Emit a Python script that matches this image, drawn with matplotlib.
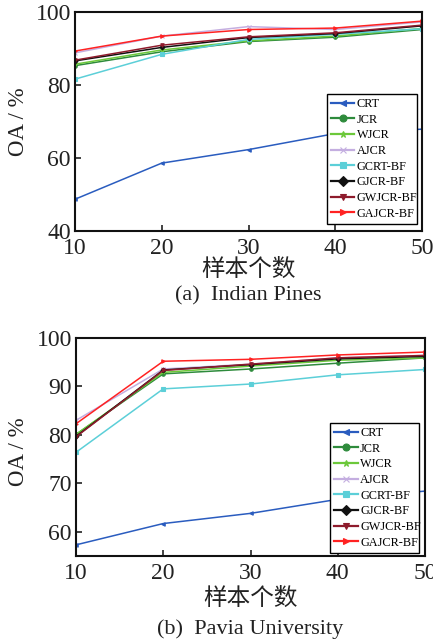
import matplotlib
matplotlib.use('Agg')
import matplotlib.pyplot as plt

plt.rcParams['font.family'] = ['Liberation Serif', 'Noto Sans CJK SC']
plt.rcParams['mathtext.fontset'] = 'stix'

# sample counts (x axis)
samples = [10, 20, 30, 40, 50]

methods = ['CRT', 'JCR', 'WJCR', 'AJCR', 'GCRT-BF', 'GJCR-BF', 'GWJCR-BF', 'GAJCR-BF']

# (a) Indian Pines, OA %
ip_crt = [48.7, 58.6, 62.3, 66.7, 67.9]
ip_jcr = [85.3, 89.1, 91.9, 93.1, 95.2]
ip_wjcr = [85.7, 89.6, 92.1, 93.4, 95.5]
ip_ajcr = [88.8, 93.4, 96.0, 95.2, 97.3]
ip_gcrt = [81.6, 88.4, 92.5, 93.9, 95.4]
ip_gjcr = [86.6, 90.3, 93.0, 94.1, 96.2]
ip_gwjcr = [86.8, 90.9, 93.2, 94.3, 96.4]
ip_gajcr = [89.3, 93.4, 95.2, 95.6, 97.5]

# (b) Pavia University, OA %
pu_crt = [57.3, 61.7, 63.8, 66.7, 68.4]
pu_jcr = [80.1, 92.6, 93.6, 94.8, 95.9]
pu_wjcr = [80.1, 92.9, 94.2, 95.4, 95.9]
pu_ajcr = [83.0, 93.6, 94.6, 95.9, 96.4]
pu_gcrt = [76.4, 89.5, 90.5, 92.4, 93.5]
pu_gjcr = [79.7, 93.4, 94.5, 95.7, 96.2]
pu_gwjcr = [79.6, 93.3, 94.6, 95.9, 96.4]
pu_gajcr = [82.3, 95.2, 95.6, 96.5, 97.1]

colors = ['#2a5cbf', '#2e8b3c', '#6cc83a', '#c4aee0', '#5ccfd8', '#111111', '#8e1b2c', '#ff2222']
markers = ['<', 'o', '*', 'x', 's', 'D', 'v', '>']

fig = plt.figure(figsize=(4.33, 6.44), dpi=100)
W, H = 433.0, 644.0


def draw_panel(rect, series, ylim, yticks, caption, leg_box, xlab_y, cap_y, ylab_y):
    l, r, t, b = rect
    ax = fig.add_axes([l / W, 1 - b / H, (r - l) / W, (b - t) / H])
    for name, vals, c, m in zip(methods, series, colors, markers):
        ax.plot(samples, vals, color=c, marker=m, markersize=2.5, lw=1.1,
                markeredgewidth=0.8, label=name)
    ax.set_xlim(10, 50)
    ax.set_ylim(*ylim)
    ax.set_xticks(samples)
    ax.set_yticks(yticks)
    ax.tick_params(direction='in', length=4, width=1.2, labelsize=17,
                   colors='#222222')
    ax.tick_params(axis='x', pad=5)
    ax.tick_params(axis='y', pad=3)
    for s in ax.spines.values():
        s.set_linewidth(1.5)
        s.set_color('#111111')
    leg = ax.legend(loc='lower left', bbox_to_anchor=leg_box, mode='expand',
                    fontsize=8.8, handlelength=1.9, handletextpad=0.2,
                    labelspacing=0.3, borderpad=0.35, borderaxespad=0,
                    fancybox=False, framealpha=1, edgecolor='black')
    leg.get_frame().set_linewidth(1.0)
    for h in leg.legend_handles:
        h.set_markersize(5)
        h.set_linewidth(1.6)
    fig.text((l + r) / 2 / W, 1 - xlab_y / H, '样本个数', ha='center', va='center',
             fontsize=17, family='Noto Sans CJK SC', color='#222222')
    fig.text((l + r) / 2 / W, 1 - cap_y / H, caption, ha='center', va='center',
             fontsize=16, color='#222222')
    fig.text(19 / W, 1 - ylab_y / H, 'OA / %', ha='center', va='center',
             rotation=90, fontsize=16.5, color='#222222')
    return ax


draw_panel((75, 422, 12, 231),
           [ip_crt, ip_jcr, ip_wjcr, ip_ajcr, ip_gcrt, ip_gjcr, ip_gwjcr, ip_gajcr],
           (40, 100), [40, 60, 80, 100], '(a)  Indian Pines',
           (0.726, 0.032, 0.26, 0.594), 269, 296, 122)

draw_panel((76, 425, 338, 556),
           [pu_crt, pu_jcr, pu_wjcr, pu_ajcr, pu_gcrt, pu_gjcr, pu_gwjcr, pu_gajcr],
           (55, 100), [60, 70, 80, 90, 100], '(b)  Pavia University',
           (0.728, 0.014, 0.255, 0.605), 598, 629, 452)

fig.savefig('out.png', dpi=100)
